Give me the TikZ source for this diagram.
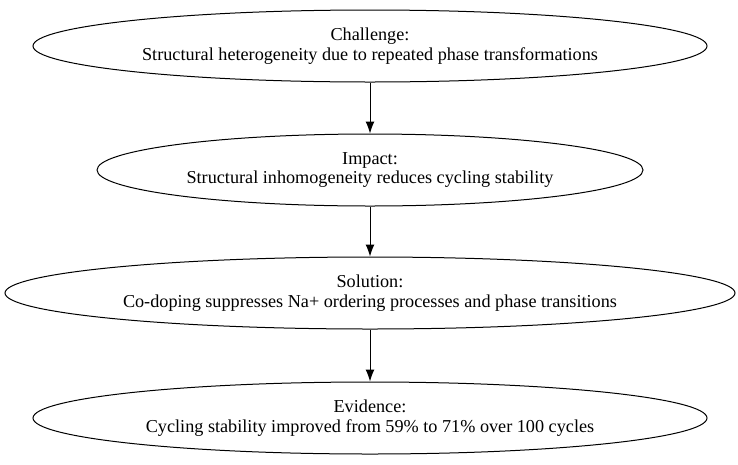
\documentclass[tikz,border=0pt]{standalone}
\usepackage{fontspec}
\setmainfont{Liberation Serif}
\usetikzlibrary{shapes.geometric,arrows.meta}
\begin{document}
\begin{tikzpicture}[x=1pt,y=-1pt,
  ell/.style={draw,ellipse,line width=1pt,inner sep=0pt,minimum height=72pt,align=center,font=\fontsize{18.2}{19.5}\selectfont},
  arr/.style={line width=1pt,-{Latex[length=12pt,width=9pt]}}]
\useasboundingbox (0,0) rectangle (738,464);
\node[ell,minimum width=674pt] (a) at (370,46) {Challenge:\\Structural heterogeneity due to repeated phase transformations};
\node[ell,minimum width=546pt] (b) at (370,170) {Impact:\\Structural inhomogeneity reduces cycling stability};
\node[ell,minimum width=730pt] (c) at (370,293) {Solution:\\Co-doping suppresses Na+ ordering processes and phase transitions};
\node[ell,minimum width=674pt] (d) at (370,418) {Evidence:\\Cycling stability improved from 59\% to 71\% over 100 cycles};
\draw[arr] (a) -- (b);
\draw[arr] (b) -- (c);
\draw[arr] (c) -- (d);
\end{tikzpicture}
\end{document}
